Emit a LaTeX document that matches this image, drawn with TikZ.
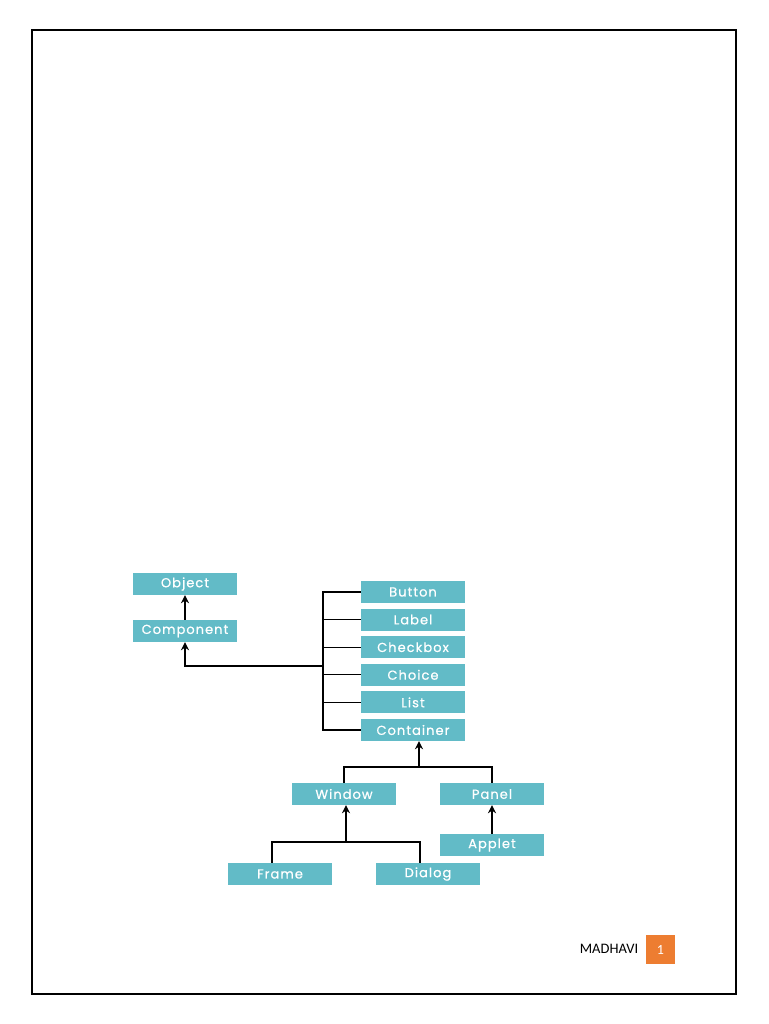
\documentclass[tikz,border=0pt]{standalone}
\usepackage{fontspec}
\setmainfont{Carlito}
\newfontfamily\boxfont[LetterSpace=8,FakeBold=0.7]{Poppins}
\usetikzlibrary{arrows.meta}
\definecolor{boxteal}{RGB}{98,187,199}
\definecolor{pageorange}{RGB}{237,125,49}
\tikzstyle{classbox} = [
    rectangle,
    minimum width=104pt,
    minimum height=22pt,
    inner sep=0pt,
    fill=boxteal,
    text=white,
    font=\boxfont\fontsize{13}{15}\selectfont
]
\tikzstyle{line} = [line width=1.3pt]
\tikzstyle{arrow} = [line width=1.3pt,-{Stealth[length=8pt,width=8pt]}]

\begin{document}
\begin{tikzpicture}[x=1pt,y=1pt,node distance=27.6pt]
\useasboundingbox (0,0) rectangle (768,-1024);
\draw [line width=2pt] (32,-30) rectangle (736,-994);

\node (object) [classbox] at (185,-584) {Object};

\node (component) [classbox, below of=object, node distance=47pt]
{Component};

\node (button) [classbox] at (413,-592) {Button};

\node (label) [classbox, below of=button] {Label};

\node (checkbox) [classbox, below of=label] {Checkbox};

\node (choice) [classbox, below of=checkbox] {Choice};

\node (list) [classbox, below of=choice] {List};

\node (container) [classbox, below of=list] {Container};

\node (window) [classbox, below of=container, xshift=-69pt, yshift=-36.4pt]
{Window};

\node (panel) [classbox, right of=window, node distance=148pt] {Panel};

\node (applet) [classbox, below of=panel, node distance=51pt] {Applet};

\node (frame) [classbox, below of=window, node distance=80pt, xshift=-64pt]
{Frame};

\node (dialog) [classbox, right of=frame, node distance=148pt] {Dialog};

\coordinate (bus) at (323,-666);
\coordinate (split) at (419,-767);
\coordinate (join) at (346,-842);

\draw [line] (button.west) -| (bus) |- (container.west);
\draw [line] (label.west) -- (label.west -| bus);
\draw [line] (checkbox.west) -- (checkbox.west -| bus);
\draw [line] (choice.west) -- (choice.west -| bus);
\draw [line] (list.west) -- (list.west -| bus);
\draw [arrow] (bus) -| (component.south);
\draw [arrow] (component) -- (object);

\draw [line] (window.north) |- (split) -| (panel.north);
\draw [arrow] (split) -- (split |- container.south);
\draw [arrow] (applet) -- (panel);

\draw [line] ([xshift=-8pt]frame.north) |- (join) -| ([xshift=-8pt]dialog.north);
\draw [arrow] (join) -- (join |- window.south);

\node (author) at (609,-949) {\fontsize{14.5}{16}\selectfont MADHAVI};
\node (page) [fill=pageorange, text=white, minimum width=29pt, minimum height=29pt]
at (660.5,-949.5) {\fontsize{14}{16}\selectfont 1};

\end{tikzpicture}
\end{document}
